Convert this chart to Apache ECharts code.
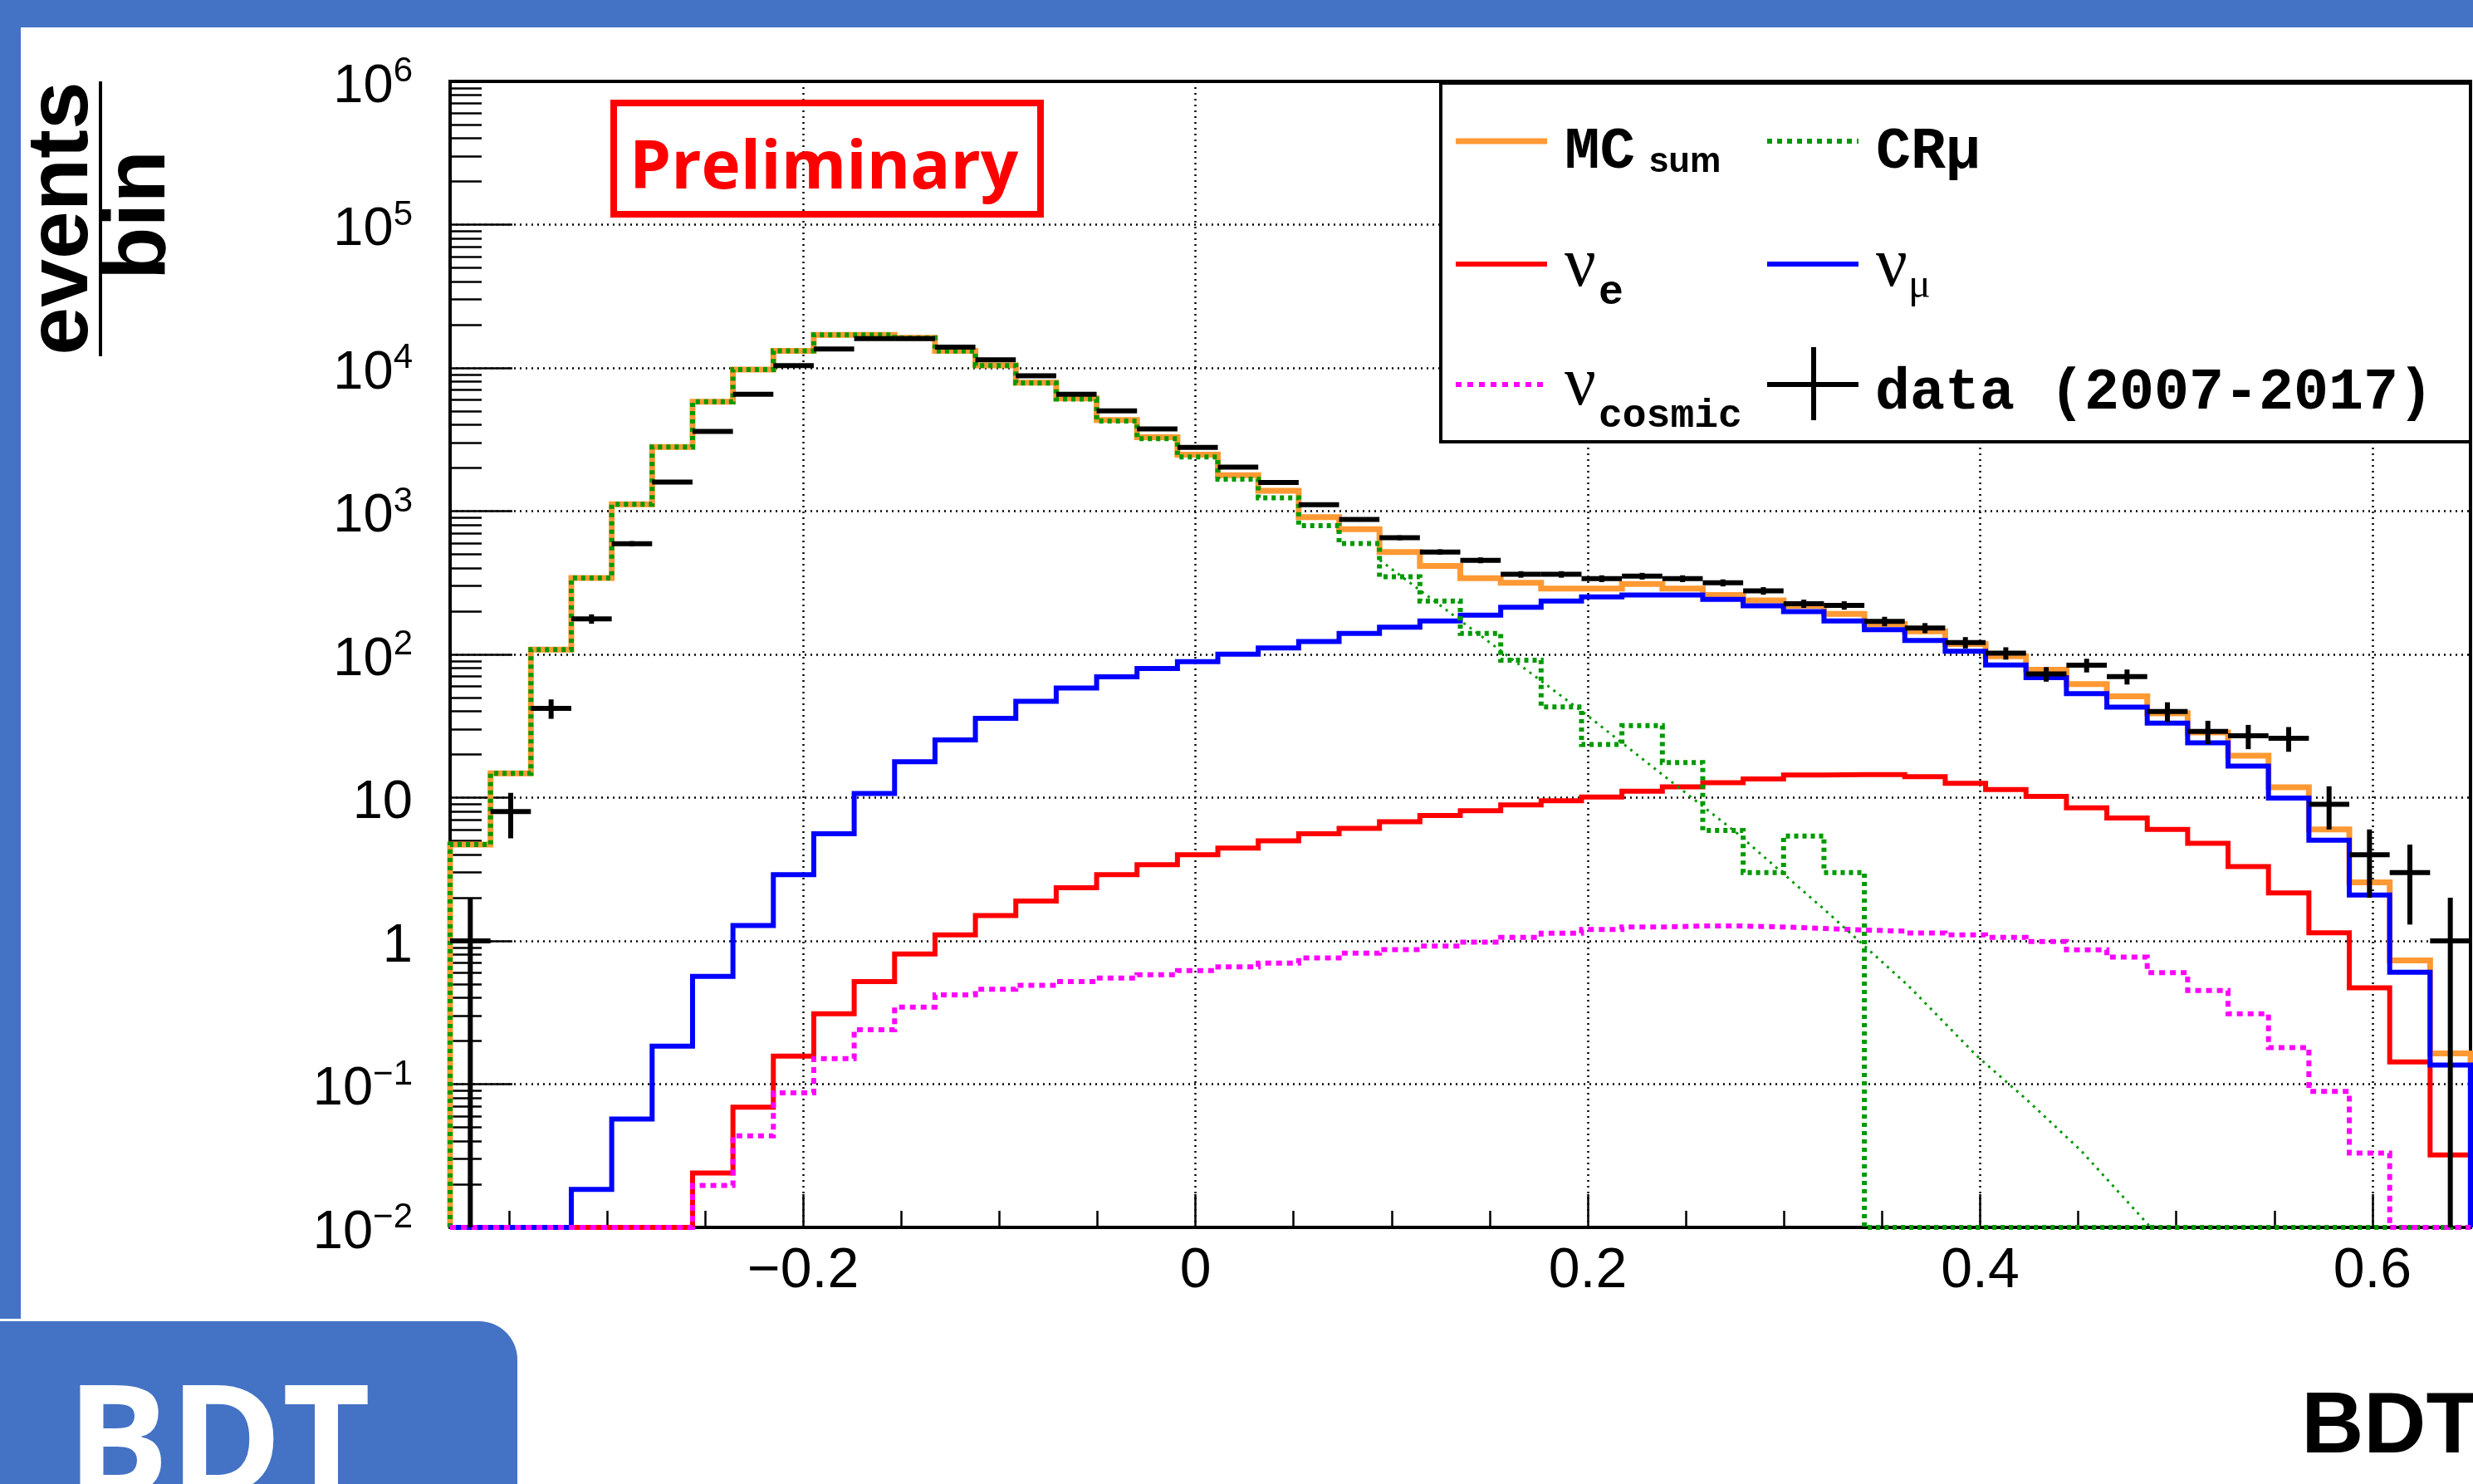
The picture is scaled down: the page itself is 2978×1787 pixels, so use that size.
<!DOCTYPE html>
<html>
<head>
<meta charset="utf-8">
<script src="https://cdn.jsdelivr.net/npm/echarts@6/dist/echarts.min.js"></script>
<style>
html,body{margin:0;padding:0;background:#ffffff;}
#chart{width:2978px;height:1787px;}
</style>
</head>
<body>
<div id="chart"></div>
<script>
// ---------------- data ----------------
const BIN_LOW = -0.38, BIN_HIGH = 0.65, N_BINS = 50;
const Y_MIN = 0.01, Y_MAX = 1e6;

const mcSum = [4.7, 14.8, 108, 342, 1115, 2800, 5800, 9750, 13150, 17000,
  17000, 16200, 13150, 10400, 7900, 6120, 4330, 3280, 2480, 1780,
  1385, 907, 748, 519, 415, 340, 316, 288, 288, 310,
  288, 260, 238, 218, 192, 163, 145, 118, 97, 78,
  62, 51, 38.7, 28.5, 19.6, 11.8, 6.0, 2.56, 0.73, 0.164];

const crMu = [4.7, 14.8, 108, 342, 1115, 2800, 5800, 9750, 13140, 16990,
  16990, 16180, 13120, 10360, 7850, 6060, 4260, 3200, 2390, 1670,
  1240, 793, 594, 348, 236, 140, 91, 43, 23.5, 31.8,
  17.6, 5.9, 3.0, 5.4, 3.0, 0, 0, 0, 0, 0,
  0, 0, 0, 0, 0, 0, 0, 0, 0, 0];

const nuE = [0, 0, 0, 0, 0, 0, 0.024, 0.069, 0.157, 0.31,
  0.52, 0.81, 1.10, 1.5, 1.9, 2.35, 2.9, 3.4, 4.0, 4.45,
  5.0, 5.6, 6.1, 6.8, 7.5, 8.1, 8.9, 9.5, 10.1, 11.1,
  11.9, 12.7, 13.5, 14.4, 14.5, 14.5, 14.0, 12.6, 11.4, 10.2,
  8.5, 7.2, 6.0, 4.8, 3.3, 2.16, 1.14, 0.47, 0.143, 0.032];

const nuMu = [0, 0, 0, 0.0184, 0.057, 0.184, 0.566, 1.28, 2.9, 5.6,
  10.7, 17.8, 25.3, 35.8, 47, 58.3, 69.7, 79.7, 89, 100.5,
  111, 123, 140, 155, 171, 188, 213, 236, 252, 260,
  260, 242, 218, 199, 171, 149, 125, 105, 84.4, 68.8,
  53.2, 42.8, 33.1, 24.1, 16.6, 9.95, 5.05, 2.09, 0.604, 0.136];

const nuCosmic = [0, 0, 0, 0, 0, 0, 0.0196, 0.0435, 0.087, 0.151,
  0.24, 0.345, 0.42, 0.46, 0.49, 0.52, 0.55, 0.58, 0.62, 0.66,
  0.70, 0.76, 0.82, 0.87, 0.92, 0.98, 1.06, 1.13, 1.20, 1.25,
  1.27, 1.27, 1.25, 1.22, 1.19, 1.17, 1.135, 1.10, 1.06, 0.99,
  0.865, 0.77, 0.60, 0.45, 0.31, 0.18, 0.089, 0.033, 0, 0];

const dataCounts = [1, 8, 42, 177, 593, 1594, 3600, 6540, 10370, 13560,
  16000, 16000, 13960, 11400, 8810, 6550, 5010, 3750, 2785, 2030,
  1585, 1108, 875, 652, 519, 454, 362, 362, 338, 352,
  338, 316, 278, 226, 220, 170, 153, 121, 102, 73,
  84, 70, 40, 29, 27, 26, 9, 4, 3, 1];

const dataErr = [1, 2.8, 6.5, 13.3, 24.4, 40, 60, 81, 102, 116,
  126, 126, 118, 107, 94, 81, 71, 61, 53, 45,
  40, 33, 29.6, 25.5, 22.8, 21.3, 19, 19, 18.4, 18.8,
  18.4, 17.8, 16.7, 15, 14.8, 13, 12.4, 11, 10.1, 8.5,
  9.2, 8.4, 6.3, 5.4, 5.2, 5.1, 3, 2, 1.7, 1];

// CR-mu fit curve
const fitX = [0.094, 0.1053, 0.1374, 0.1657, 0.1997, 0.2374, 0.2752, 0.3205, 0.3635, 0.3982, 0.4238, 0.4513, 0.487];
const fitY = [455, 348, 163, 83.7, 37.5, 14.7, 5.78, 1.66, 0.485, 0.158, 0.0778, 0.0345, 0.01];

// y minor ticks: mantissas 2..9 in every decade
const Y_MINOR_MANTISSAS = [2, 3, 4, 5, 6, 7, 8, 9];
const Y_DECADES = [-2, -1, 0, 1, 2, 3, 4, 5];

// ---------------- helpers ----------------
const binWidth = (BIN_HIGH - BIN_LOW) / N_BINS;
const edges = [];
for (let i = 0; i <= N_BINS; i++) edges.push(BIN_LOW + i * binWidth);

function stepPoints(vals) {
  const pts = [[edges[0], Y_MIN]];
  vals.forEach((v, i) => {
    const y = v > Y_MIN ? v : Y_MIN;
    pts.push([edges[i], y], [edges[i + 1], y]);
  });
  pts.push([edges[N_BINS], Y_MIN]);
  return pts;
}

const minorTickValues = [];
Y_DECADES.forEach(d => Y_MINOR_MANTISSAS.forEach(m => minorTickValues.push(m * Math.pow(10, d))));

const dataItems = dataCounts.map((v, i) => [edges[i], edges[i + 1], v,
  Math.max(v - dataErr[i], Y_MIN), v + dataErr[i]]);

const FONT_SANS = '"Liberation Sans", Arial, Helvetica, sans-serif';
const FONT_MONO = '"Liberation Mono", "Courier New", monospace';
const FONT_SERIF = '"Liberation Serif", "Times New Roman", serif';
const FONT_OPEN = '"Open Sans", "Liberation Sans", sans-serif';

const BLUE_FRAME = '#4472C4';
const C_ORANGE = '#ff9933', C_GREEN = '#009900', C_RED = '#ff0000', C_BLUE = '#0000ff', C_MAGENTA = '#ff00ff';

function histSeries(name, vals, color, width, dash, z) {
  return {
    name: name, type: 'line', data: stepPoints(vals), showSymbol: false, symbol: 'none',
    clip: false, silent: true, z: z, animation: false,
    lineStyle: { color: color, width: width, type: dash || 'solid', cap: 'butt', join: 'miter' }
  };
}

function txt(text, x, y, size, family, weight, color, extra) {
  return Object.assign({
    type: 'text', x: x, y: y, z: 101, silent: true,
    style: { text: text, fontSize: size, fontFamily: family, fontWeight: weight || 'normal',
      fill: color || '#000', align: 'left', verticalAlign: 'middle' }
  }, extra || {});
}
function seg(x1, y1, x2, y2, color, width, dash, z) {
  return { type: 'line', z: z || 101, silent: true, shape: { x1: x1, y1: y1, x2: x2, y2: y2 },
    style: { stroke: color, lineWidth: width, lineDash: dash || null } };
}

// ---------------- chart ----------------
const chart = echarts.init(document.getElementById('chart'), null, { renderer: 'canvas', width: 2978, height: 1787 });

const option = {
  backgroundColor: '#ffffff',
  animation: false,
  grid: { left: 542, right: 3, top: 98, bottom: 309, show: true, borderColor: '#000', borderWidth: 4,
    containLabel: false, outerBoundsMode: 'none' },
  xAxis: {
    type: 'value', min: BIN_LOW, max: BIN_HIGH, splitNumber: 5,
    name: 'BDT', nameLocation: 'end', nameGap: 10,
    nameTextStyle: { fontSize: 104, fontWeight: 'bold', fontFamily: FONT_SANS, color: '#000',
      align: 'right', verticalAlign: 'top', padding: [190, 0, 0, 0] },
    axisLine: { show: true, onZero: false, lineStyle: { color: '#000', width: 4 } },
    axisTick: { show: true, inside: true, length: 40, lineStyle: { color: '#000', width: 2.5 } },
    minorTick: { show: true, splitNumber: 4, length: 20, lineStyle: { color: '#000', width: 2.5 } },
    splitLine: { show: true, lineStyle: { color: '#000', width: 2.5, type: [2, 5] } },
    axisLabel: { show: true, margin: 19, fontSize: 68, fontFamily: FONT_SANS, color: '#000',
      showMinLabel: false, showMaxLabel: false,
      formatter: function (v) { const r = Math.round(v * 100) / 100; return r < 0 ? '\u2212' + Math.abs(r) : String(r); } }
  },
  yAxis: [{
    type: 'log', logBase: 10, min: Y_MIN, max: Y_MAX, splitNumber: 8, position: 'left',
    axisLine: { show: true, onZero: false, lineStyle: { color: '#000', width: 4 } },
    axisTick: { show: true, inside: true, length: 75, lineStyle: { color: '#000', width: 2.5 } },
    splitLine: { show: true, lineStyle: { color: '#000', width: 2.5, type: [2, 5] } },
    axisLabel: {
      show: true, margin: 45, color: '#000',
      formatter: function (v) {
        const e = Math.round(Math.log10(v));
        if (e === 0) return '{b|1}';
        if (e === 1) return '{b|10}';
        return '{b|10}{s|' + (e < 0 ? '\u2212' : '') + Math.abs(e) + '}';
      },
      rich: {
        b: { fontSize: 65, fontFamily: FONT_SANS, color: '#000', lineHeight: 65, padding: [14, 0, 0, 0] },
        s: { fontSize: 42, fontFamily: FONT_SANS, color: '#000', lineHeight: 42, verticalAlign: 'top' }
      }
    }
  }, {
    type: 'log', logBase: 10, min: Y_MIN, max: Y_MAX, position: 'left', offset: 0,
    axisLine: { show: false, onZero: false }, axisLabel: { show: false }, splitLine: { show: false },
    axisTick: { show: true, inside: true, length: 38, customValues: minorTickValues,
      lineStyle: { color: '#000', width: 2.5 } }
  }],
  series: [
    histSeries('MC sum', mcSum, C_ORANGE, 7, 'solid', 2),
    histSeries('\u03bd_e', nuE, C_RED, 6, 'solid', 3),
    histSeries('\u03bd_\u03bc', nuMu, C_BLUE, 6, 'solid', 4),
    histSeries('CR\u03bc', crMu, C_GREEN, 6, [5, 5], 5),
    histSeries('\u03bd_cosmic', nuCosmic, C_MAGENTA, 6, [7, 6], 6),
    {
      name: 'CR\u03bc fit', type: 'line', data: fitX.map((x, i) => [x, fitY[i]]), showSymbol: false,
      symbol: 'none', silent: true, z: 7, clip: true,
      lineStyle: { color: C_GREEN, width: 3, type: [3, 6] }
    },
    {
      name: 'data (2007-2017)', type: 'custom', data: dataItems, z: 8, silent: true, clip: false,
      encode: { x: [0, 1], y: [2, 3, 4] },
      renderItem: function (params, api) {
        const x0 = api.value(0), x1 = api.value(1), y = api.value(2), lo = api.value(3), hi = api.value(4);
        const xc = (x0 + x1) / 2;
        const a = api.coord([x0, y]), b = api.coord([x1, y]);
        const c = api.coord([xc, Math.max(lo, Y_MIN)]), d = api.coord([xc, hi]);
        return {
          type: 'group', children: [
            { type: 'line', shape: { x1: a[0], y1: a[1], x2: b[0], y2: b[1] }, style: { stroke: '#000', lineWidth: 6 } },
            { type: 'line', shape: { x1: c[0], y1: c[1], x2: d[0], y2: d[1] }, style: { stroke: '#000', lineWidth: 6 } }
          ]
        };
      }
    }
  ],
  graphic: {
    elements: [
      // slide decoration
      { type: 'rect', z: 0, silent: true, shape: { x: 0, y: 0, width: 2978, height: 33 }, style: { fill: BLUE_FRAME } },
      { type: 'rect', z: 0, silent: true, shape: { x: 0, y: 0, width: 25, height: 1588 }, style: { fill: BLUE_FRAME } },
      { type: 'rect', z: 0, silent: true, shape: { x: 0, y: 1591, width: 623, height: 230, r: [0, 46, 0, 0] }, style: { fill: BLUE_FRAME } },
      txt('BDT', 80, 1747, 184, FONT_OPEN, 'bold', '#ffffff', { z: 1 }),
      // y-axis title: events / bin
      txt('events', 76, 263, 104, FONT_SANS, 'bold', '#000', { rotation: Math.PI / 2, style: { text: 'events', fontSize: 104, fontFamily: FONT_SANS, fontWeight: 'bold', fill: '#000', align: 'center', verticalAlign: 'middle' } }),
      seg(121, 98, 121, 429, '#000', 4, null, 101),
      txt('bin', 169, 259, 104, FONT_SANS, 'bold', '#000', { rotation: Math.PI / 2, style: { text: 'bin', fontSize: 104, fontFamily: FONT_SANS, fontWeight: 'bold', fill: '#000', align: 'center', verticalAlign: 'middle' } }),
      // Preliminary box
      { type: 'rect', z: 50, silent: true, shape: { x: 739, y: 124, width: 514, height: 134 }, style: { fill: 'none', stroke: C_RED, lineWidth: 8 } },
      txt('Preliminary', 758, 204, 80, FONT_OPEN, 'bold', C_RED, { z: 51 }),
      // legend box
      { type: 'rect', z: 100, silent: true, shape: { x: 1735, y: 100, width: 1240, height: 432 }, style: { fill: '#ffffff', stroke: '#000', lineWidth: 4 } },
      seg(1753, 170, 1863, 170, C_ORANGE, 7),
      seg(2128, 170, 2238, 170, C_GREEN, 6, [6, 6]),
      seg(1753, 318, 1863, 318, C_RED, 6),
      seg(2128, 318, 2238, 318, C_BLUE, 6),
      seg(1753, 463, 1863, 463, C_MAGENTA, 6, [7, 7]),
      seg(2128, 463, 2238, 463, '#000', 6),
      seg(2184, 418, 2184, 506, '#000', 6),
      txt('MC', 1884, 184, 71, FONT_MONO, 'bold'),
      txt('sum', 1986, 195, 42, FONT_SANS, 'bold'),
      txt('CR\u03bc', 2259, 184, 70, FONT_MONO, 'bold'),
      txt('\u03bd', 1884, 322, 84, FONT_SERIF, 'normal'),
      txt('e', 1925, 353, 50, FONT_MONO, 'bold'),
      txt('\u03bd', 2259, 322, 84, FONT_SERIF, 'normal'),
      txt('\u03bc', 2298, 345, 50, FONT_SERIF, 'normal'),
      txt('\u03bd', 1884, 465, 84, FONT_SERIF, 'normal'),
      txt('cosmic', 1925, 502, 48, FONT_MONO, 'bold'),
      txt('data (2007-2017)', 2258, 474, 70, FONT_MONO, 'bold')
    ]
  }
};

chart.setOption(option);
</script>
</body>
</html>
